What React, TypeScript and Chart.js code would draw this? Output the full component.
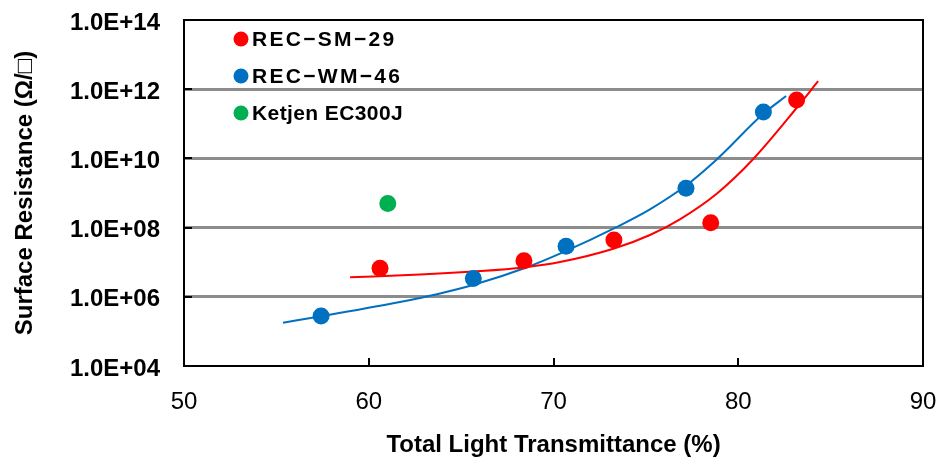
import React, { useEffect, useRef } from "react";
import { Chart, registerables } from "chart.js";

Chart.register(...registerables);

// ---- data ----
const xTickValues = [50, 60, 70, 80, 90];
const yTickExponents = [4, 6, 8, 10, 12, 14];

const smLabel = "REC\u2212SM\u221229";
const smX = [60.61, 68.4, 73.27, 78.51, 83.16];
const smY = [6.7e6, 1.1e7, 4.4e7, 1.39e8, 4.9e11];

const wmLabel = "REC\u2212WM\u221246";
const wmX = [57.42, 65.66, 70.68, 77.17, 81.36];
const wmY = [2.8e5, 3.4e6, 2.9e7, 1.37e9, 2.2e11];

const ketLabel = "Ketjen EC300J";
const ketX = [61.03];
const ketY = [5.0e8];

const smTrendX = [58.99, 62.77, 65.64, 68.4, 70.35, 73.28, 75.22, 76.84, 78.85, 80.8, 83.18, 84.32];
const smTrendY = [3.66e6, 4.39e6, 5.38e6, 7.08e6, 1.01e7, 2.49e7, 6.11e7, 1.74e8, 9.73e8, 9.48e9, 2.96e11, 1.7e12];

const wmTrendX = [55.36, 57.42, 61.69, 63.69, 65.64, 68.57, 70.35, 73.44, 75.22, 77.17, 78.85, 81.34, 82.59];
const wmTrendY = [1.78e5, 2.75e5, 7.08e5, 1.19e6, 2.19e6, 7.16e6, 1.76e7, 1.05e8, 3.36e8, 1.64e9, 9.48e9, 1.91e11, 6.36e11];

const RED = "#ff0000";
const BLUE = "#0070c0";
const GREEN = "#00b050";
const FONT = "Arial, 'Liberation Sans', sans-serif";

const toPts = (xs: number[], ys: number[]) => xs.map((x, i) => ({ x, y: ys[i] }));

const fmtExp = (v: number) => {
  const e = Math.round(Math.log10(v));
  return "1.0E+" + (e < 10 ? "0" + e : String(e));
};

const zeroPad = (s: any) => {
  s.paddingLeft = 0;
  s.paddingRight = 0;
  s.paddingTop = 0;
  s.paddingBottom = 0;
};

const framePlugin = {
  id: "frame",
  beforeDatasetsDraw(chart: any) {
    const { ctx, chartArea } = chart;
    const { left, right, top, bottom } = chartArea;
    const xs = chart.scales.x;
    const ys = chart.scales.y;
    ctx.save();
    ctx.strokeStyle = "#000";
    ctx.lineWidth = 2;
    ctx.beginPath();
    xTickValues.slice(1, -1).forEach((v) => {
      const px = Math.round(xs.getPixelForValue(v));
      ctx.moveTo(px, bottom);
      ctx.lineTo(px, bottom - 8);
    });
    yTickExponents.slice(1, -1).forEach((e) => {
      const py = Math.round(ys.getPixelForValue(Math.pow(10, e)));
      ctx.moveTo(left, py);
      ctx.lineTo(left + 8, py);
    });
    ctx.stroke();
    ctx.strokeRect(left, top, right - left, bottom - top);
    ctx.restore();
  },
};

const legendPlugin = {
  id: "innerLegend",
  afterDatasetsDraw(chart: any) {
    const { ctx, chartArea } = chart;
    const items = chart.data.datasets.filter((d: any) => !d.isTrend);
    ctx.save();
    items.forEach((d: any, i: number) => {
      const cy = chartArea.top + 19 + i * 37;
      const cx = chartArea.left + 57;
      ctx.beginPath();
      ctx.fillStyle = d.backgroundColor;
      ctx.arc(cx, cy, 7.5, 0, Math.PI * 2);
      ctx.fill();
      ctx.fillStyle = "#000";
      ctx.font = "bold 21px " + FONT;
      ctx.textBaseline = "middle";
      ctx.textAlign = "left";
      try {
        (ctx as any).letterSpacing = d.label.startsWith("REC") ? "2.3px" : "0.4px";
      } catch (e) {}
      ctx.fillText(d.label, cx + 11, cy + 1);
    });
    ctx.restore();
  },
};

export default function App() {
  const ref = useRef<HTMLCanvasElement | null>(null);

  useEffect(() => {
    document.body.style.margin = "0";
    const canvas = ref.current;
    if (!canvas) return;
    const pointDs = (label: string, xs: number[], ys: number[], color: string) =>
      ({
        label,
        data: toPts(xs, ys),
        backgroundColor: color,
        borderWidth: 0,
        pointRadius: 8.5,
        pointHoverRadius: 8.5,
        order: 1,
      } as any);
    const trendDs = (label: string, xs: number[], ys: number[], color: string) =>
      ({
        label,
        isTrend: true,
        data: toPts(xs, ys),
        showLine: true,
        borderColor: color,
        backgroundColor: color,
        borderWidth: 2,
        pointRadius: 0,
        pointHoverRadius: 0,
        cubicInterpolationMode: "monotone",
        order: 2,
      } as any);
    const chart = new Chart(canvas, {
      type: "scatter",
      data: {
        datasets: [
          pointDs(smLabel, smX, smY, RED),
          pointDs(wmLabel, wmX, wmY, BLUE),
          pointDs(ketLabel, ketX, ketY, GREEN),
          trendDs("trend SM", smTrendX, smTrendY, RED),
          trendDs("trend WM", wmTrendX, wmTrendY, BLUE),
        ],
      },
      options: {
        responsive: false,
        animation: false,
        layout: { padding: { left: 0, top: 20, right: 19, bottom: 0 } },
        plugins: {
          legend: { display: false },
          tooltip: { enabled: false },
        },
        scales: {
          x: {
            type: "linear",
            min: 50,
            max: 90,
            afterFit: (s: any) => {
              s.height = 95;
              zeroPad(s);
            },
            afterBuildTicks: (s: any) => {
              s.ticks = xTickValues.map((v) => ({ value: v }));
            },
            grid: { display: false, drawTicks: false },
            border: { display: false },
            ticks: {
              color: "#000",
              padding: 22,
              font: { family: FONT, size: 24, weight: "normal" },
              maxRotation: 0,
            },
            title: {
              display: true,
              text: "Total Light Transmittance (%)",
              color: "#000",
              font: { family: FONT, size: 24, weight: "bold" },
              padding: { top: 0, bottom: 1 },
            },
          },
          y: {
            type: "logarithmic",
            min: 1e4,
            max: 1e14,
            afterFit: (s: any) => {
              s.width = 184;
              zeroPad(s);
            },
            afterBuildTicks: (s: any) => {
              s.ticks = yTickExponents.map((e) => ({ value: Math.pow(10, e) }));
            },
            grid: {
              drawTicks: false,
              lineWidth: 3,
              color: (c: any) => {
                const v = c.tick ? c.tick.value : 0;
                return v <= 1e4 || v >= 1e14 ? "rgba(0,0,0,0)" : "#8c8c8c";
              },
            },
            border: { display: false },
            ticks: {
              color: "#000",
              padding: 24,
              labelOffset: 3,
              font: { family: FONT, size: 24, weight: "bold" },
              callback: (v: any) => fmtExp(Number(v)),
            },
            title: {
              display: true,
              text: "Surface Resistance (\u03A9/\u25A1)",
              color: "#000",
              font: { family: FONT, size: 24, weight: "bold" },
              padding: { top: 11, bottom: 0 },
            },
          },
        },
      },
      plugins: [framePlugin, legendPlugin],
    });
    return () => chart.destroy();
  }, []);

  return (
    <div style={{ width: 942, height: 461, position: "relative" }}>
      <canvas ref={ref} width={942} height={461} style={{ display: "block" }} />
    </div>
  );
}
